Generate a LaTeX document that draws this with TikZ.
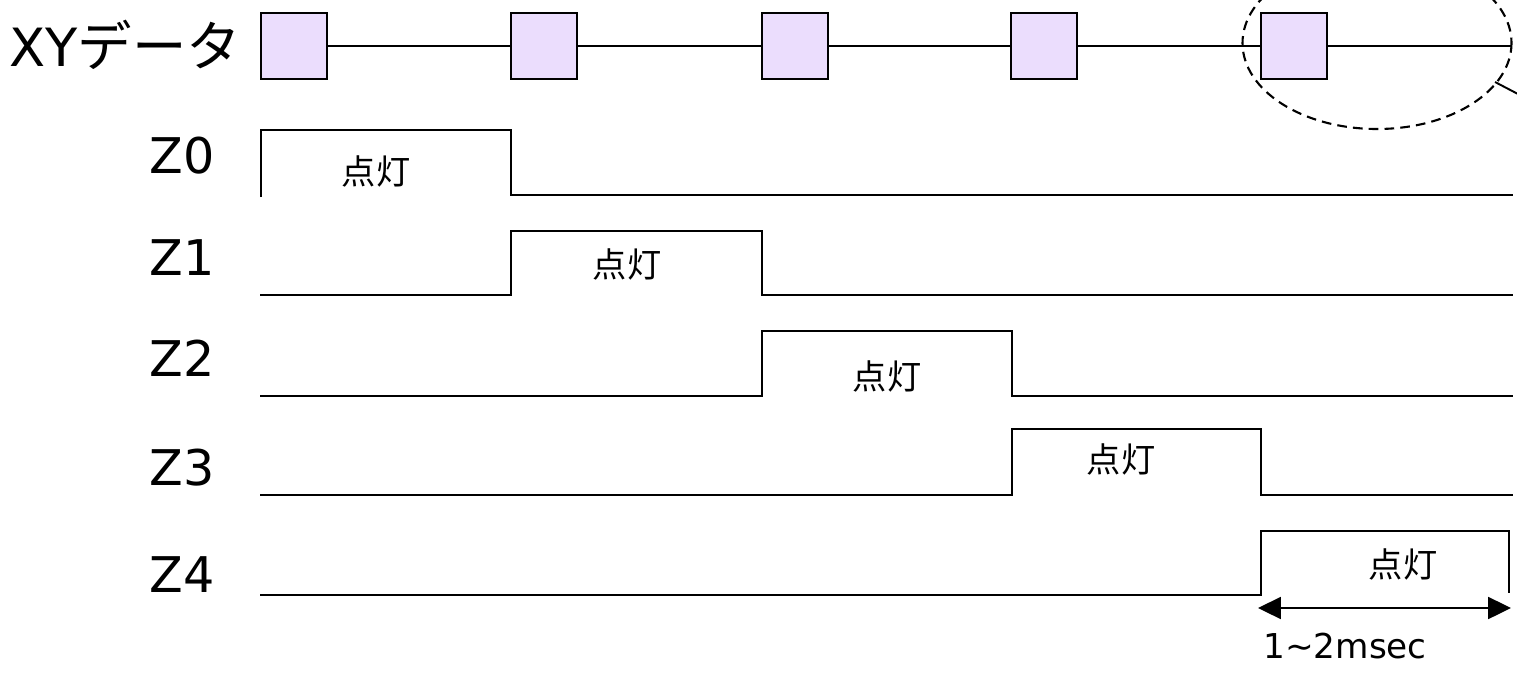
\documentclass[tikz,border=0pt]{standalone}
\usepackage{fontspec}
\setmainfont{DejaVu Sans}
\newfontfamily\jp{Noto Sans CJK JP}
\usepackage{tikz}
\usetikzlibrary{arrows.meta}
\definecolor{ink}{HTML}{000000}
\definecolor{lilac}{HTML}{EBDDFD}
\tikzset{
  every node/.style={text=ink,inner sep=0pt},
  sig/.style={font=\fontsize{28}{32}\selectfont},
  lit/.style={font=\jp\fontsize{19.5}{22}\selectfont},
  note/.style={font=\fontsize{19.5}{22}\selectfont},
  wave/.style={draw=ink,line width=1.1pt},
  xybox/.style={draw=ink,fill=lilac,line width=1.3pt,minimum width=1.32cm,minimum height=1.32cm},
  bus/.style={draw=ink,line width=1.1pt},
  span/.style={{Triangle[length=13pt,width=12.5pt]}-{Triangle[length=13pt,width=12.5pt]},line width=1.1pt,draw=ink},
}

\begin{document}
\begin{tikzpicture}[x=0.02cm,y=-0.02cm]
\path[use as bounding box] (0,0) rectangle (1517,673);
\fill[white] (0,0) rectangle (1517,673);
\clip (0,0) rectangle (1517,673);
% XY data row
\node[sig,anchor=west] (xylabel) at (9,45) {\fontsize{30}{34}\selectfont XY{\jp\fontsize{31}{34}\selectfont データ}};
\node[xybox] (xy1) at (294,46) {};
\node[xybox] (xy2) at (544,46) {};
\node[xybox] (xy3) at (795,46) {};
\node[xybox] (xy4) at (1044,46) {};
\node[xybox] (xy5) at (1294,46) {};
\coordinate (xyend) at (1512,46);
\draw[bus] (xy1.east)--(xy2.west);
\draw[bus] (xy2.east)--(xy3.west);
\draw[bus] (xy3.east)--(xy4.west);
\draw[bus] (xy4.east)--(xy5.west);
\draw[bus] (xy5.east)--(xyend);
% dashed callout round the last sample
\draw[dashed,dash pattern=on 5.5pt off 3.5pt,line width=1.2pt] (1377,43) ellipse [x radius=134.5,y radius=86];
\draw[line width=1.1pt] (1495,82)--(1560,116);
% Z lines
\node[sig] (z0) at (182,156) {Z0};
\draw[wave] (261,197)--(261,130)--(511,130)--(511,195)--(1513,195);
\node[lit] (on0) at (376,171) {点灯};
\node[sig] (z1) at (182,258) {Z1};
\draw[wave] (260,295)--(511,295)--(511,231)--(762,231)--(762,295)--(1513,295);
\node[lit] (on1) at (627,264) {点灯};
\node[sig] (z2) at (182,358) {Z2};
\draw[wave] (260,396)--(762,396)--(762,331)--(1012,331)--(1012,396)--(1513,396);
\node[lit] (on2) at (887,376) {点灯};
\node[sig] (z3) at (182,468) {Z3};
\draw[wave] (260,495)--(1012,495)--(1012,429)--(1261,429)--(1261,495)--(1513,495);
\node[lit] (on3) at (1121,459) {点灯};
\node[sig] (z4) at (182,575) {Z4};
\draw[wave] (260,595)--(1261,595)--(1261,531)--(1509,531)--(1509,593);
\node[lit] (on4) at (1403,564) {点灯};
% lighting period
\coordinate (pstart) at (1258,608);
\coordinate (pend) at (1511,608);
\draw[span] (pstart)--(pend);
\node[note,anchor=west] (period) at (1263,646) {1∼2msec};
\end{tikzpicture}
\end{document}
